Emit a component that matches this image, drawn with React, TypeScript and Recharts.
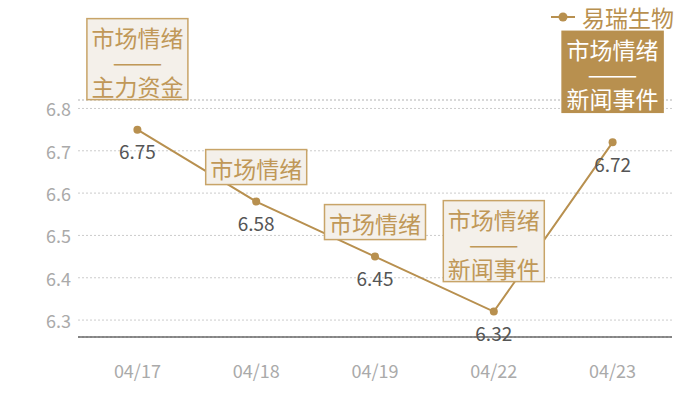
import React from 'react';
import { LineChart, Line, XAxis, YAxis, CartesianGrid, ReferenceLine, LabelList } from 'recharts';

const dates = ['04/17', '04/18', '04/19', '04/22', '04/23'];
const prices = [6.75, 6.58, 6.45, 6.32, 6.72];
const tagTop = ['市场情绪', '市场情绪', '市场情绪', '市场情绪', '市场情绪'];
const tagBottom = ['主力资金', '', '', '新闻事件', '新闻事件'];
const tagHighlight = [false, false, false, false, true];
const yTicks = [6.3, 6.4, 6.5, 6.6, 6.7, 6.8];
const yDomain = [6.26, 6.82];
const seriesName = '易瑞生物';

const GOLD = '#b8904f';
const FONT = '"Noto Sans CJK SC", "Noto Sans", sans-serif';

const data = dates.map((d, i) => ({ date: d, price: prices[i], idx: i }));

const XTick = (props: any) => {
  const { x, y, payload } = props;
  return (
    <text x={x} y={y + 25} textAnchor="middle" dominantBaseline="central" fill="#aaa" fontSize={18} fontFamily={FONT}>
      {payload.value}
    </text>
  );
};

const YTick = (props: any) => {
  const { y, payload } = props;
  return (
    <text x={71} y={y} textAnchor="end" dominantBaseline="central" fill="#aaa" fontSize={18} fontFamily={FONT}>
      {payload.value.toFixed(1)}
    </text>
  );
};

const ValueLabel = (props: any) => {
  const { x, y, value } = props;
  return (
    <text x={x} y={y + 21} textAnchor="middle" dominantBaseline="central" fill="#555" fontSize={19} fontFamily={FONT}>
      {value.toFixed(2)}
    </text>
  );
};

const TagLabel = (props: any) => {
  const { x, y, index } = props;
  const two = tagBottom[index] !== '';
  const hi = tagHighlight[index];
  const w = 101;
  const h = two ? 81 : 35;
  const bottom = y - (two ? 30 : 17);
  const top = bottom - h;
  const color = hi ? '#fff' : '#c09858';
  return (
    <g>
      <rect
        x={x - w / 2}
        y={top}
        width={w}
        height={h}
        fill={hi ? GOLD : '#f4f0ea'}
        stroke={hi ? GOLD : '#c8a468'}
        strokeWidth={1.5}
      />
      <text x={x} y={top + 18} textAnchor="middle" dominantBaseline="central" fill={color} fontSize={23} fontFamily={FONT}>
        {tagTop[index]}
      </text>
      {two && (
        <>
          <text
            x={x - 25}
            y={top + 42}
            dominantBaseline="central"
            fill={color}
            fontSize={23}
            fontFamily={FONT}
            textLength={50}
            lengthAdjust="spacingAndGlyphs"
          >
            ——
          </text>
          <text x={x} y={top + 67} textAnchor="middle" dominantBaseline="central" fill={color} fontSize={23} fontFamily={FONT}>
            {tagBottom[index]}
          </text>
        </>
      )}
    </g>
  );
};

export default function App() {
  return (
    <div style={{ position: 'absolute', left: 0, top: 0, width: 700, height: 400, background: '#fff', fontFamily: FONT }}>
      <LineChart width={700} height={400} data={data} margin={{ top: 100, right: 28, bottom: 33, left: 0 }}>
        <CartesianGrid vertical={false} stroke="#ccc" strokeDasharray="2 2" />
        <ReferenceLine y={yDomain[1]} stroke="#ccc" strokeDasharray="2 2" />
        <XAxis
          dataKey="date"
          scale="band"
          height={30}
          axisLine={{ stroke: '#222', strokeWidth: 1.2 }}
          tickLine={false}
          tick={<XTick />}
        />
        <YAxis
          width={78}
          domain={yDomain}
          ticks={yTicks}
          axisLine={false}
          tickLine={false}
          tick={<YTick />}
          allowDataOverflow
        />
        <Line
          type="linear"
          dataKey="price"
          name={seriesName}
          stroke={GOLD}
          strokeWidth={2}
          dot={{ r: 4, fill: GOLD, stroke: GOLD, strokeWidth: 0 }}
          isAnimationActive={false}
        >
          <LabelList dataKey="price" content={<ValueLabel />} />
          <LabelList dataKey="price" content={<TagLabel />} />
        </Line>
      </LineChart>
      <div style={{ position: 'absolute', top: 4, right: 26, display: 'flex', alignItems: 'center' }}>
        <svg width={26} height={26} style={{ marginRight: 6 }}>
          <line x1={1} y1={13} x2={25} y2={13} stroke={GOLD} strokeWidth={2} />
          <circle cx={13} cy={13} r={4.5} fill={GOLD} />
        </svg>
        <span style={{ color: GOLD, fontSize: 23, lineHeight: '26px' }}>{seriesName}</span>
      </div>
    </div>
  );
}
